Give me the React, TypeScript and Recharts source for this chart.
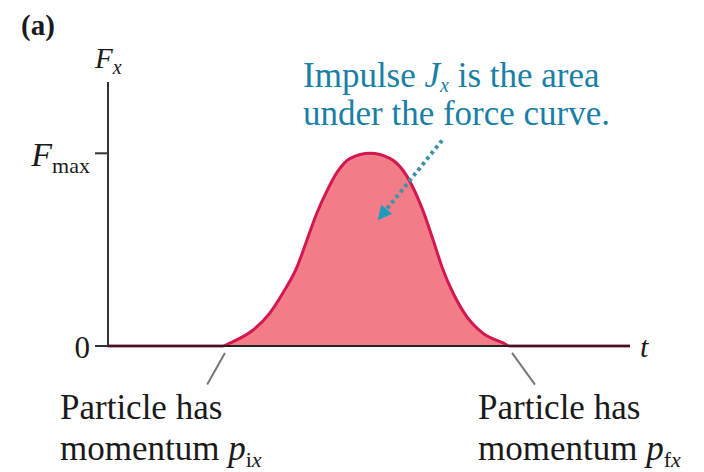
import { Area, AreaChart, ReferenceLine, XAxis, YAxis } from 'recharts'

// force pulse, sampled along the time axis (F in units of Fmax)
const times = [0, 22.0, 23.4, 27.8, 31.0, 33.5, 36.2, 38.1, 40.0, 42.0, 43.9, 46.4, 50.2, 54.0, 56.5, 58.4, 60.3, 62.3, 64.0, 66.1, 68.8, 71.8, 75.7, 77.0, 100]
const forces = [0, 0, 0.016, 0.083, 0.171, 0.275, 0.409, 0.549, 0.689, 0.808, 0.902, 0.974, 1.0, 0.974, 0.912, 0.824, 0.705, 0.549, 0.409, 0.275, 0.15, 0.067, 0.016, 0, 0]
const forceTicks = [0, 1]

// callout arrow and leader lines, in data units
const arrowFrom = { t: 64.0, f: 1.067 }
const arrowTo = { t: 51.7, f: 0.653 }
const leftLeader = [{ x: 22.4, y: -0.036 }, { x: 19.0, y: -0.2 }]
const rightLeader = [{ x: 77.4, y: -0.036 }, { x: 81.8, y: -0.2 }]

const data = times.map((t, i) => ({ t, force: forces[i] }))

const SERIF = '"Liberation Serif", "Times New Roman", serif'
const TEAL = '#1a7fa6'
const INK = '#1a1a1a'

function ForceTick({ x, y, payload }: any) {
  if (payload.value === 0) {
    return (
      <text x={x - 3} y={y + 12} textAnchor="end" fontFamily={SERIF} fontSize={31} fill={INK}>
        0
      </text>
    )
  }
  return (
    <text x={x - 3} y={y + 13} textAnchor="end" fontFamily={SERIF} fill={INK}>
      <tspan fontSize={34} fontStyle="italic">F</tspan>
      <tspan fontSize={22} dy={7}>max</tspan>
    </text>
  )
}

function ForceLabel({ viewBox }: any) {
  const { x, y, width } = viewBox
  return (
    <text x={x + width - 13} y={y - 14} fontFamily={SERIF} fill={INK}>
      <tspan fontSize={29} fontStyle="italic">F</tspan>
      <tspan fontSize={20} fontStyle="italic" dy={6}>x</tspan>
    </text>
  )
}

function DottedArrow({ x1, y1, x2, y2 }: any) {
  const dx = x2 - x1
  const dy = y2 - y1
  const len = Math.hypot(dx, dy)
  const ux = dx / len
  const uy = dy / len
  const head = 14
  const bx = x2 - ux * head
  const by = y2 - uy * head
  const px = -uy * 7
  const py = ux * 7
  return (
    <g>
      <line x1={x1} y1={y1} x2={bx} y2={by} stroke="#3f93a3" strokeWidth={4} strokeDasharray="3.5 3.5" />
      <polygon points={`${x2},${y2} ${bx + px},${by + py} ${bx - px},${by - py}`} fill="#1c9cbd" />
    </g>
  )
}

function Annotations() {
  return (
    <svg width={704} height={472} style={{ position: 'absolute', left: 0, top: 0, pointerEvents: 'none' }}>
      <text x={21} y={35} fontFamily={SERIF} fontSize={29} fontWeight="bold" fill={INK}>(a)</text>
      <text x={303} y={87} fontFamily={SERIF} fontSize={35} fill={TEAL}>
        Impulse <tspan fontStyle="italic">J</tspan>
        <tspan fontStyle="italic" fontSize={20} dy={5}>x</tspan>
        <tspan dy={-5}> is the area</tspan>
      </text>
      <text x={303} y={125} fontFamily={SERIF} fontSize={35} fill={TEAL}>under the force curve.</text>
      <text x={60} y={419} fontFamily={SERIF} fontSize={35} fill={INK}>Particle has</text>
      <text x={60} y={460} fontFamily={SERIF} fontSize={35} fill={INK}>
        momentum <tspan fontStyle="italic">p</tspan>
        <tspan fontSize={22} dy={7}>i</tspan>
        <tspan fontSize={22} fontStyle="italic">x</tspan>
      </text>
      <text x={478} y={419} fontFamily={SERIF} fontSize={35} fill={INK}>Particle has</text>
      <text x={478} y={460} fontFamily={SERIF} fontSize={35} fill={INK}>
        momentum <tspan fontStyle="italic">p</tspan>
        <tspan fontSize={22} dy={7}>f</tspan>
        <tspan fontSize={22} fontStyle="italic">x</tspan>
      </text>
    </svg>
  )
}

export default function App() {
  return (
    <div style={{ position: 'absolute', left: 0, top: 0, width: 704, height: 472, background: '#fff' }}>
      <AreaChart width={704} height={472} data={data} margin={{ top: 82, right: 74, bottom: 125, left: 8 }}>
        <XAxis
          dataKey="t"
          type="number"
          domain={[0, 100]}
          height={1}
          tick={false}
          tickLine={false}
          axisLine={{ stroke: '#222', strokeWidth: 2 }}
          label={{ value: 't', position: 'right', offset: 10, fontSize: 30, fontStyle: 'italic', fill: INK, fontFamily: SERIF }}
        />
        <YAxis
          type="number"
          domain={[0, 1.37]}
          ticks={forceTicks}
          width={100}
          tickSize={13}
          tickLine={{ stroke: '#333', strokeWidth: 2 }}
          axisLine={{ stroke: '#333', strokeWidth: 2 }}
          tick={<ForceTick />}
          label={{ content: <ForceLabel /> }}
        />
        <Area
          type="monotone"
          dataKey="force"
          stroke="#d3184f"
          strokeWidth={3}
          fill="#f27d88"
          fillOpacity={1}
          dot={false}
          activeDot={false}
          isAnimationActive={false}
        />
        <ReferenceLine
          segment={[{ x: arrowFrom.t, y: arrowFrom.f }, { x: arrowTo.t, y: arrowTo.f }]}
          ifOverflow="visible"
          shape={<DottedArrow />}
        />
        <ReferenceLine segment={leftLeader} ifOverflow="visible" stroke="#777" strokeWidth={2} />
        <ReferenceLine segment={rightLeader} ifOverflow="visible" stroke="#777" strokeWidth={2} />
      </AreaChart>
      <Annotations />
    </div>
  )
}
